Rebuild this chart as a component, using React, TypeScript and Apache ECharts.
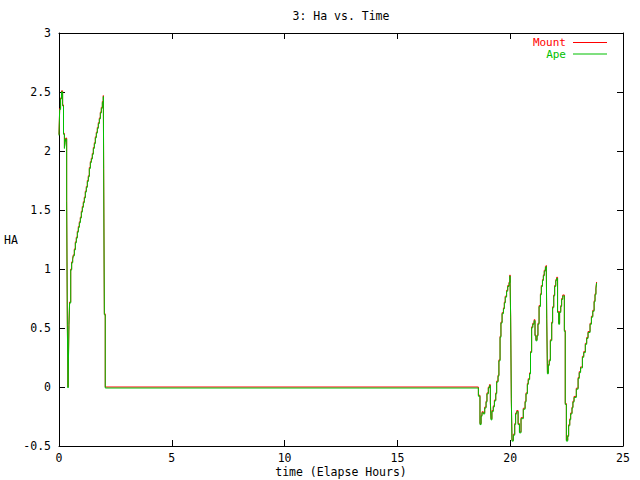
import React, { useEffect, useRef } from "react";
import * as echarts from "echarts";

// Elapsed time (hours) at which each step begins
const hours: number[] = [
  0, 0.01, 0.03, 0.07, 0.11, 0.16, 0.2, 0.24, 0.27, 0.3, 0.34, 0.37, 0.4, 0.42, 0.44, 0.47, 0.52,
  0.561, 0.606, 0.635, 0.68, 0.724, 0.768, 0.813, 0.857, 0.901, 0.946, 0.99, 1.034, 1.078, 1.123,
  1.167, 1.211, 1.256, 1.3, 1.344, 1.389, 1.433, 1.477, 1.522, 1.566, 1.61, 1.655, 1.699, 1.743,
  1.788, 1.832, 1.876, 1.921, 1.965, 1.98, 2.01, 2.05,
  18.59, 18.66, 18.71, 18.75, 18.81, 18.87, 18.93, 18.97, 19.03, 19.08, 19.12, 19.15, 19.19, 19.25,
  19.3, 19.36, 19.4, 19.46, 19.5, 19.55, 19.59, 19.64, 19.7, 19.74, 19.78, 19.84, 19.89, 19.95,
  19.99, 20.02, 20.05, 20.08, 20.14, 20.2, 20.24, 20.29, 20.35, 20.41, 20.48, 20.58, 20.66, 20.7,
  20.76, 20.8, 20.86, 20.9, 20.95, 21.0, 21.06, 21.1, 21.14, 21.19, 21.23, 21.28, 21.34, 21.38,
  21.43, 21.47, 21.51, 21.56, 21.6, 21.62, 21.65, 21.69, 21.73, 21.78, 21.84, 21.88, 21.93, 21.97,
  22.02, 22.06, 22.1, 22.15, 22.19, 22.24, 22.28, 22.33, 22.4, 22.44, 22.49, 22.55, 22.59, 22.64,
  22.68, 22.74, 22.78, 22.83, 22.93, 23.01, 23.06, 23.12, 23.2, 23.26, 23.33, 23.39, 23.45, 23.54,
  23.6, 23.66, 23.72, 23.76, 23.8, 23.83, 23.86,
];

// Mount HA values
const mountHa: number[] = [
  2.14, 2.22, 2.36, 2.45, 2.51, 2.39, 2.15, 2.03, 2.08, 2.11, 1.58, 0.53, 0, 0.25, 0.53, 0.72, 1.0,
  1.06, 1.09, 1.12, 1.17, 1.23, 1.27, 1.32, 1.36, 1.4, 1.44, 1.49, 1.53, 1.57, 1.61,
  1.66, 1.7, 1.75, 1.79, 1.86, 1.91, 1.94, 1.98, 2.03, 2.07, 2.12, 2.16, 2.2, 2.24,
  2.28, 2.33, 2.37, 2.42, 2.47, 1.85, 0.62, 0,
  -0.07, -0.31, -0.24, -0.21, -0.22, -0.17, -0.12, -0.05, 0.0, 0.02, -0.12, -0.27, -0.2, -0.16,
  -0.11, -0.05, 0.05, 0.1, 0.23, 0.43, 0.55, 0.63, 0.67, 0.72, 0.77, 0.82, 0.86, 0.89,
  0.95, 0.6, -0.1, -0.45, -0.4, -0.31, -0.22, -0.2, -0.31, -0.38, -0.26, -0.18, -0.12, -0.05,
  0.03, 0.07, 0.12, 0.3, 0.51, 0.54, 0.57, 0.44, 0.4, 0.44, 0.54, 0.69, 0.79, 0.86,
  0.91, 0.95, 0.99, 1.02, 1.03, 0.58, 0.12, 0.19, 0.23, 0.4, 0.55, 0.68, 0.78, 0.86,
  0.91, 0.93, 0.64, 0.54, 0.64, 0.69, 0.75, 0.78, 0.48, -0.14, -0.45, -0.41, -0.32, -0.27,
  -0.22, -0.17, -0.12, -0.08, -0.01, 0.08, 0.13, 0.17, 0.26, 0.3, 0.37, 0.42, 0.47, 0.54,
  0.6, 0.65, 0.73, 0.79, 0.84, 0.89, 0.89,
];

// Ape HA values (read as coincident with Mount)
const apeHa: number[] = mountHa.slice();

const xTicks = { min: 0, max: 25, interval: 5 };
const yTicks = { min: -0.5, max: 3, interval: 0.5 };

const FONT = "DejaVu Sans Mono";
const RED = "#ff0000";
const GREEN = "#00c000";

export default function App() {
  const ref = useRef<HTMLDivElement>(null);

  useEffect(() => {
    if (!ref.current) return;
    const chart = echarts.init(ref.current, undefined, { renderer: "svg" });
    const mountData = hours.map((h, i) => [h, mountHa[i]]);
    const apeData = hours.map((h, i) => [h, apeHa[i]]);
    const onePx = (yTicks.max - yTicks.min) / 413;

    const tickStyle = { show: true, inside: true, length: 6, lineStyle: { color: "#000", width: 1 } };
    const lineStyle = { show: true, onZero: false, lineStyle: { color: "#000", width: 1 } };

    chart.setOption({
      animation: false,
      backgroundColor: "#ffffff",
      textStyle: { fontFamily: FONT },
      grid: { left: 59, right: 17, top: 33, bottom: 34, containLabel: false },
      legend: {
        orient: "vertical",
        align: "right",
        right: 33,
        top: 37,
        padding: 0,
        itemGap: 0.5,
        itemWidth: 34,
        itemHeight: 11,
        selectedMode: false,
        icon: "path://M0,0 L34,0 L34,1 L0,1 Z",
        textStyle: { fontFamily: FONT, fontSize: 11, lineHeight: 11, padding: [0, 2, 0, 0] },
        data: [
          { name: "Mount", textStyle: { color: RED } },
          { name: "Ape", textStyle: { color: GREEN } },
        ],
      },
      xAxis: [
        {
          type: "value",
          position: "bottom",
          min: xTicks.min,
          max: xTicks.max,
          interval: xTicks.interval,
          axisLine: lineStyle,
          axisTick: tickStyle,
          splitLine: { show: false },
          axisLabel: { color: "#000", fontFamily: FONT, fontSize: 11.5, margin: 6 },
        },
        {
          type: "value",
          position: "top",
          min: xTicks.min,
          max: xTicks.max,
          interval: xTicks.interval,
          axisLine: lineStyle,
          axisTick: tickStyle,
          splitLine: { show: false },
          axisLabel: { show: false },
        },
      ],
      yAxis: [
        {
          type: "value",
          position: "left",
          min: yTicks.min,
          max: yTicks.max,
          interval: yTicks.interval,
          axisLine: lineStyle,
          axisTick: tickStyle,
          splitLine: { show: false },
          axisLabel: { color: "#000", fontFamily: FONT, fontSize: 11.5, margin: 8 },
        },
        {
          type: "value",
          show: false,
          min: yTicks.min + onePx,
          max: yTicks.max + onePx,
          splitLine: { show: false },
        },
        {
          type: "value",
          position: "right",
          min: yTicks.min,
          max: yTicks.max,
          interval: yTicks.interval,
          axisLine: lineStyle,
          axisTick: tickStyle,
          splitLine: { show: false },
          axisLabel: { show: false },
        },
      ],
      series: [
        {
          name: "Mount",
          type: "line",
          step: "end",
          xAxisIndex: 0,
          yAxisIndex: 0,
          data: mountData,
          symbol: "none",
          showSymbol: false,
          color: RED,
          lineStyle: { color: RED, width: 1 },
        },
        {
          name: "Ape",
          type: "line",
          step: "end",
          xAxisIndex: 0,
          yAxisIndex: 1,
          data: apeData,
          symbol: "none",
          showSymbol: false,
          color: GREEN,
          lineStyle: { color: GREEN, width: 1 },
        },
      ],
      graphic: [
        {
          type: "text",
          x: 341,
          y: 16,
          style: {
            text: "3: Ha vs. Time",
            fill: "#000",
            font: `11.5px "${FONT}"`,
            textAlign: "center",
            textVerticalAlign: "middle",
          },
        },
        {
          type: "text",
          x: 341,
          y: 472,
          style: {
            text: "time (Elapse Hours)",
            fill: "#000",
            font: `11.5px "${FONT}"`,
            textAlign: "center",
            textVerticalAlign: "middle",
          },
        },
        {
          type: "text",
          x: 11,
          y: 240,
          style: {
            text: "HA",
            fill: "#000",
            font: `11.5px "${FONT}"`,
            textAlign: "center",
            textVerticalAlign: "middle",
          },
        },
      ],
    });

    return () => chart.dispose();
  }, []);

  return (
    <div
      ref={ref}
      style={{ position: "absolute", left: 0, top: 0, width: 640, height: 480, background: "#fff" }}
    />
  );
}
